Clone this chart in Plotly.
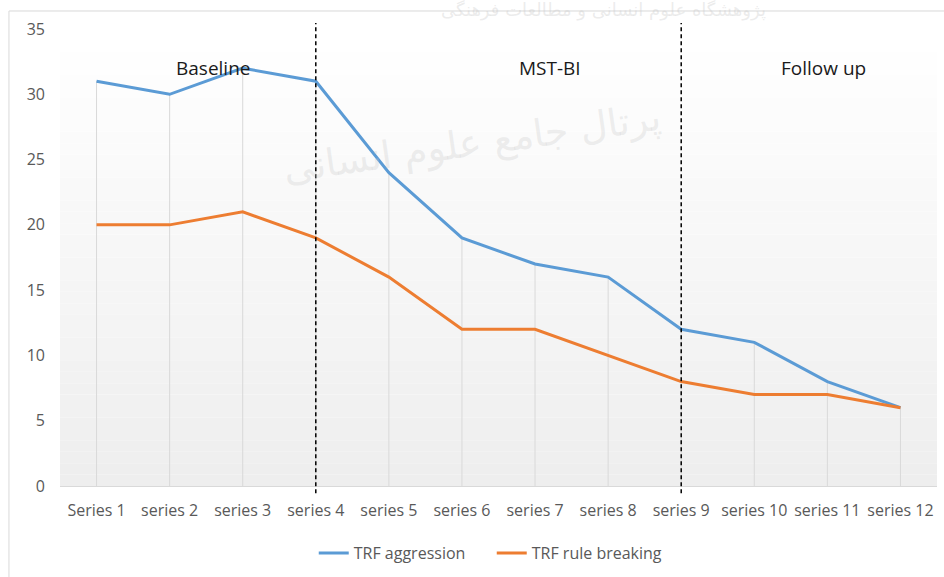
import plotly.graph_objects as go

categories = ["Series 1", "series 2", "series 3", "series 4", "series 5", "series 6",
              "series 7", "series 8", "series 9", "series 10", "series 11", "series 12"]
aggression = [31, 30, 32, 31, 24, 19, 17, 16, 12, 11, 8, 6]
rule_breaking = [20, 20, 21, 19, 16, 12, 12, 10, 8, 7, 7, 6]
phase_labels = ["Baseline", "MST-BI", "Follow up"]
phase_label_pos = [1.6, 6.2, 9.95]
phase_dividers = ["series 4", "series 9"]
y_ticks = [0, 5, 10, 15, 20, 25, 30, 35]

BLUE = "#5B9BD5"
ORANGE = "#ED7D31"
GRAY_TXT = "#595959"
FONT = "Open Sans"

fig = go.Figure()

# drop lines (from axis to the highest point of each category)
dx, dy = [], []
for c, a, r in zip(categories, aggression, rule_breaking):
    dx += [c, c, None]
    dy += [0, max(a, r), None]
fig.add_trace(go.Scatter(x=dx, y=dy, mode="lines", line=dict(color="#d9d9d9", width=1),
                         showlegend=False, hoverinfo="skip"))

fig.add_trace(go.Scatter(x=categories, y=aggression, mode="lines", name="TRF aggression",
                         line=dict(color=BLUE, width=3)))
fig.add_trace(go.Scatter(x=categories, y=rule_breaking, mode="lines", name="TRF rule breaking",
                         line=dict(color=ORANGE, width=3)))

shapes = []
# subtle vertical gradient background in the plot area
N = 40
for i in range(N):
    t = i / (N - 1)  # 0 bottom -> 1 top
    v = int(round(238 + (255 - 238) * t))
    shapes.append(dict(type="rect", xref="paper", yref="paper", x0=0, x1=1,
                       y0=i / N, y1=(i + 1) / N, fillcolor=f"rgb({v},{v},{v})",
                       line=dict(width=0), layer="below"))
# chart-area border
shapes.append(dict(type="rect", xref="paper", yref="paper", x0=-0.0582, x1=1.02,
                   y0=-0.25, y1=1.0394, line=dict(color="#d9d9d9", width=1),
                   fillcolor="rgba(0,0,0,0)", layer="below"))
# phase dividers
for d in phase_dividers:
    shapes.append(dict(type="line", xref="x", yref="paper", x0=d, x1=d, y0=-0.016, y1=1.013,
                       line=dict(color="black", width=1.5, dash="4px,3px")))

annotations = []
for lbl, pos in zip(phase_labels, phase_label_pos):
    annotations.append(dict(x=pos, y=32.0, xref="x", yref="y", text=lbl, showarrow=False,
                            font=dict(family=FONT, size=19, color="#1a1a1a"),
                            yanchor="middle", xanchor="center"))
# faint watermark present in the source image
annotations.append(dict(x=0.47, y=0.86, xref="paper", yref="paper",
                        text="پرتال جامع علوم انسانی", showarrow=False, textangle=-8,
                        font=dict(family="DejaVu Sans", size=38, color="rgba(200,200,200,0.3)")))
annotations.append(dict(x=0.62, y=1.042, xref="paper", yref="paper", yanchor="middle",
                        text="پژوهشگاه علوم انسانی و مطالعات فرهنگی", showarrow=False,
                        font=dict(family="DejaVu Sans", size=18, color="rgba(200,200,200,0.35)")))

fig.update_layout(
    width=944, height=577,
    margin=dict(l=60, r=7, t=29, b=91, autoexpand=False),
    paper_bgcolor="white", plot_bgcolor="white",
    font=dict(family=FONT, size=16, color=GRAY_TXT),
    shapes=shapes, annotations=annotations,
    legend=dict(orientation="h", x=0.4923, xanchor="center", y=-0.147, yanchor="middle",
                entrywidth=133,
                font=dict(family=FONT, size=16, color=GRAY_TXT), bgcolor="rgba(0,0,0,0)"),
    hovermode=False,
)
fig.update_xaxes(type="category", categoryorder="array", categoryarray=categories,
                 range=[-0.5, len(categories) - 0.5], showgrid=False, zeroline=False,
                 showline=True, linecolor="#d9d9d9", linewidth=1, ticks="",
                 ticklabelstandoff=10, tickfont=dict(family=FONT, size=16, color=GRAY_TXT))
fig.update_yaxes(range=[0, 35], tickvals=y_ticks, showgrid=False, zeroline=False,
                 showline=False, ticks="", ticklabelstandoff=14,
                 tickfont=dict(family=FONT, size=16, color=GRAY_TXT))

fig.write_html("out.html", config={"displayModeBar": False},
               post_script="document.body.style.margin='0px';")
